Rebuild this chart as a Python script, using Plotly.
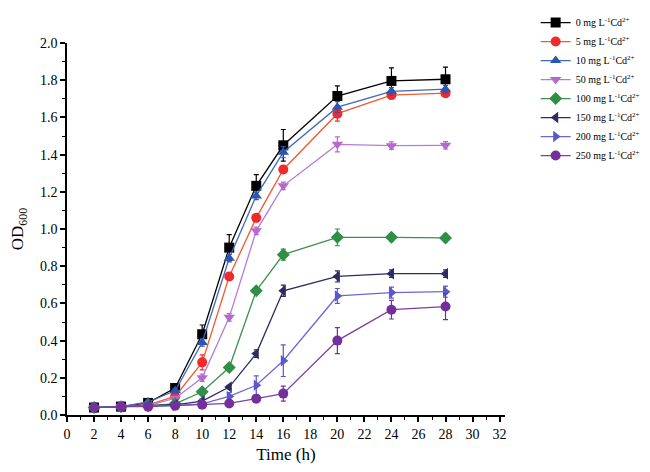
import plotly.graph_objects as go

time_h = [2, 4, 6, 8, 10, 12, 14, 16, 20, 24, 28]

labels = ["0", "5", "10", "50", "100", "150", "200", "250"]

od_0 = [0.04, 0.045, 0.065, 0.145, 0.434, 0.90, 1.232, 1.45, 1.715, 1.796, 1.805]
od_5 = [0.04, 0.045, 0.055, 0.10, 0.283, 0.745, 1.06, 1.32, 1.62, 1.72, 1.73]
od_10 = [0.04, 0.045, 0.07, 0.13, 0.39, 0.843, 1.178, 1.413, 1.655, 1.74, 1.752]
od_50 = [0.04, 0.045, 0.05, 0.09, 0.20, 0.525, 0.99, 1.232, 1.455, 1.448, 1.45]
od_100 = [0.04, 0.045, 0.05, 0.06, 0.125, 0.255, 0.668, 0.862, 0.955, 0.955, 0.952]
od_150 = [0.04, 0.045, 0.05, 0.055, 0.075, 0.15, 0.33, 0.668, 0.745, 0.76, 0.76]
od_200 = [0.04, 0.045, 0.05, 0.05, 0.06, 0.10, 0.16, 0.292, 0.64, 0.658, 0.663]
od_250 = [0.04, 0.045, 0.045, 0.05, 0.055, 0.062, 0.088, 0.115, 0.40, 0.566, 0.583]

err_0 = [0.005, 0.005, 0.01, 0.015, 0.05, 0.07, 0.06, 0.085, 0.055, 0.07, 0.065]
err_5 = [0.005, 0.005, 0.01, 0.01, 0.04, 0.02, 0.02, 0.02, 0.04, 0.02, 0.02]
err_10 = [0.005, 0.005, 0.01, 0.01, 0.02, 0.02, 0.02, 0.03, 0.03, 0.02, 0.02]
err_50 = [0.005, 0.005, 0.005, 0.01, 0.02, 0.02, 0.02, 0.02, 0.04, 0.02, 0.02]
err_100 = [0.005, 0.005, 0.005, 0.01, 0.01, 0.01, 0.01, 0.03, 0.045, 0.02, 0.02]
err_150 = [0.005, 0.005, 0.005, 0.005, 0.01, 0.01, 0.02, 0.03, 0.03, 0.02, 0.02]
err_200 = [0.005, 0.005, 0.005, 0.005, 0.01, 0.02, 0.05, 0.085, 0.04, 0.03, 0.03]
err_250 = [0.005, 0.005, 0.005, 0.005, 0.01, 0.01, 0.02, 0.04, 0.07, 0.05, 0.07]

series = [od_0, od_5, od_10, od_50, od_100, od_150, od_200, od_250]
errors = [err_0, err_5, err_10, err_50, err_100, err_150, err_200, err_250]
colors = ["#000000", "#f02a2a", "#2b55b0", "#b468d0", "#2f8f45", "#2c2c62", "#5a58cc", "#73309a"]
line_colors = ["#000000", "#f05a30", "#3f68c0", "#b87ad8", "#3f9050", "#2c2c62", "#6a68d8", "#7a40a0"]
symbols = ["square", "circle", "triangle-up", "triangle-down", "diamond", "triangle-left", "triangle-right", "circle"]

fig = go.Figure()
for lab, ys, es, c, lc, s in zip(labels, series, errors, colors, line_colors, symbols):
    fig.add_trace(go.Scatter(
        x=time_h, y=ys,
        mode="lines+markers",
        name=f"{lab} mg L<sup>-1</sup>Cd<sup>2+</sup>",
        line=dict(color=lc, width=1.3),
        marker=dict(symbol=s, size=10, color=c),
        error_y=dict(type="data", array=es, visible=True, color=c, thickness=1.2, width=2.5),
    ))

font_family = "Liberation Serif, Times New Roman, serif"

fig.update_layout(
    width=650, height=472,
    paper_bgcolor="white", plot_bgcolor="white",
    margin=dict(l=59, r=153, t=35, b=65, autoexpand=False),
    font=dict(family=font_family, color="black", size=14),
    showlegend=True,
    legend=dict(
        x=1.07, y=1.094, xanchor="left", yanchor="top",
        font=dict(family=font_family, size=10, color="black"),
        bgcolor="rgba(0,0,0,0)", borderwidth=0,
        tracegroupgap=0, itemwidth=30,
    ),
    xaxis=dict(
        range=[0, 32.4], dtick=2, tick0=0, automargin=False,
        showline=True, linecolor="black", linewidth=1.5,
        ticks="outside", ticklen=5, tickwidth=1.5, tickcolor="black",
        minor=dict(ticks="outside", dtick=1, ticklen=3, tickwidth=1.2, tickcolor="black"),
        showgrid=False, zeroline=False,
        tickfont=dict(size=14),
        title=dict(text="Time (h)", font=dict(size=17), standoff=8),
    ),
    yaxis=dict(
        range=[0, 2.0], dtick=0.2, tick0=0, tickformat=".1f", automargin=False,
        showline=True, linecolor="black", linewidth=1.5,
        ticks="outside", ticklen=5, tickwidth=1.5, tickcolor="black",
        minor=dict(ticks="outside", dtick=0.1, ticklen=3, tickwidth=1.2, tickcolor="black"),
        showgrid=False, zeroline=False,
        tickfont=dict(size=14),
        title=dict(text="OD<sub>600</sub>", font=dict(size=17), standoff=24),
    ),
)

fig.write_html("out.html")
